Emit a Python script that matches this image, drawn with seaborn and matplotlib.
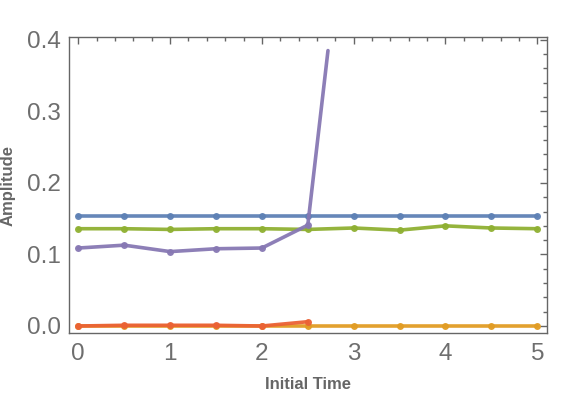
import numpy as np
import pandas as pd
import matplotlib.pyplot as plt
import seaborn as sns
from matplotlib.ticker import MultipleLocator

# Data
t_full = [0, 0.5, 1, 1.5, 2, 2.5, 3, 3.5, 4, 4.5, 5]
blue = [0.154, 0.154, 0.154, 0.154, 0.154, 0.154, 0.154, 0.154, 0.154, 0.154, 0.154]
orange = [0.0, 0.0, 0.0, 0.0, 0.0, 0.0, 0.0, 0.0, 0.0, 0.0, 0.0]
green = [0.136, 0.136, 0.135, 0.136, 0.136, 0.135, 0.137, 0.134, 0.140, 0.137, 0.136]
t_red = [0, 0.5, 1, 1.5, 2, 2.5]
red = [0.0, 0.001, 0.001, 0.001, 0.0, 0.006]
t_purple = [0, 0.5, 1, 1.5, 2, 2.5]
purple = [0.109, 0.113, 0.104, 0.108, 0.109, 0.141]
# purple shoots off the top after 2.5
t_purple_tail = [2.5, 2.72]
purple_tail = [0.141, 0.385]

colors = {'blue': '#5E81B5', 'orange': '#E19C24', 'green': '#8FB032',
          'red': '#EB6235', 'purple': '#8778B3'}

sns.set_style('white')
plt.rcParams['font.family'] = ['Liberation Sans', 'DejaVu Sans']

fig = plt.figure(figsize=(5.76, 3.94), dpi=100)
ax = fig.add_axes([0.1198, 0.1548, 0.8299, 0.7513])

series = [
    ('blue', t_full, blue),
    ('orange', t_full, orange),
    ('green', t_full, green),
    ('red', t_red, red),
    ('purple', t_purple, purple),
]
for name, xs, ys in series:
    df = pd.DataFrame({'t': xs, 'a': ys})
    sns.lineplot(data=df, x='t', y='a', ax=ax, color=colors[name],
                 linewidth=2.6, alpha=0.95, marker='o', markersize=5,
                 markeredgewidth=0)

tail = pd.DataFrame({'t': t_purple_tail, 'a': purple_tail})
sns.lineplot(data=tail, x='t', y='a', ax=ax, color=colors['purple'],
             linewidth=2.6, alpha=0.95)

ax.set_xlim(-0.101, 5.106)
ax.set_ylim(-0.0098, 0.404)

gray = '#666666'
ax.xaxis.set_major_locator(MultipleLocator(1))
ax.xaxis.set_minor_locator(MultipleLocator(0.2))
ax.yaxis.set_major_locator(MultipleLocator(0.1))
ax.yaxis.set_minor_locator(MultipleLocator(0.02))
ax.yaxis.set_major_formatter(plt.FuncFormatter(lambda v, p: f'{v:.1f}'))
ax.tick_params(which='both', direction='in', top=True, right=True,
               color=gray, width=1, labelcolor='#6e6e6e', labelsize=17.5)
ax.tick_params(which='major', length=5)
ax.tick_params(which='minor', length=3)
ax.tick_params(axis='x', which='major', pad=7)
ax.tick_params(axis='y', which='major', pad=6)
ax.tick_params(axis='x', which='both', labeltop=False)
ax.tick_params(axis='y', which='both', labelright=False)
for s in ax.spines.values():
    s.set_color(gray)
    s.set_linewidth(1)

ax.set_xlabel('Initial Time', fontsize=12, fontweight='bold', color=gray,
              labelpad=9)
ax.set_ylabel('Amplitude', fontsize=12, fontweight='bold', color=gray,
              labelpad=8)

fig.savefig('out.png', dpi=100)
